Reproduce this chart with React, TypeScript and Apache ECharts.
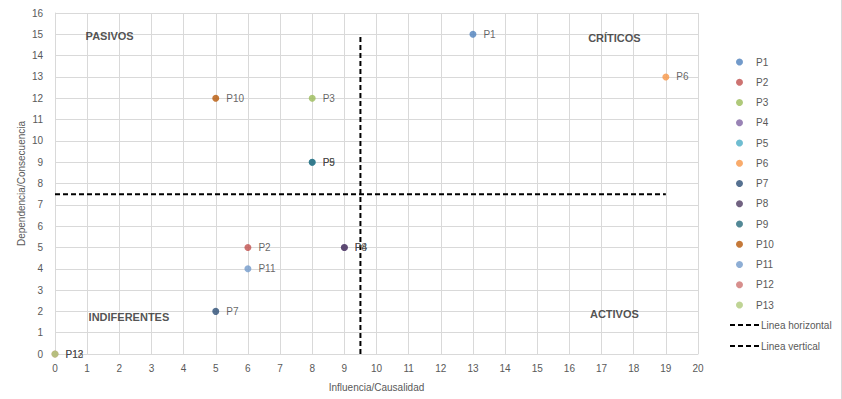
import React, { useEffect, useRef } from "react";
import * as echarts from "echarts";

const names = ["P1", "P2", "P3", "P4", "P5", "P6", "P7", "P8", "P9", "P10", "P11", "P12", "P13"];
const xValues = [13, 6, 8, 9, 8, 19, 5, 9, 8, 5, 6, 0, 0];
const yValues = [15, 5, 12, 5, 9, 13, 2, 5, 9, 12, 4, 0, 0];
const colors = ["#4F81BD", "#C0504D", "#9BBB59", "#8064A2", "#4BACC6", "#F79646", "#2C4D75", "#4D3B62", "#276A7C", "#B65708", "#729ACA", "#CD7371", "#AFC97A"];
const horizontalLine = [[0, 7.5], [19, 7.5]];
const verticalLine = [[9.5, 0], [9.5, 15]];
const quadrantLabels = [
  [1.7, 14.9, "PASIVOS"],
  [17.4, 14.85, "CRÍTICOS"],
  [2.3, 1.75, "INDIFERENTES"],
  [17.4, 1.9, "ACTIVOS"],
];

const font = "'Liberation Sans', Arial, sans-serif";

export default function App() {
  const ref = useRef<HTMLDivElement>(null);
  useEffect(() => {
    const chart = echarts.init(ref.current!, null, { renderer: "svg" });
    const scatterSeries = names.map((n, i) => ({
      name: n,
      type: "scatter",
      data: [[xValues[i], yValues[i]]],
      symbolSize: 7,
      itemStyle: { color: colors[i] },
      label: {
        show: true,
        position: "right",
        distance: 7,
        formatter: n,
        color: "#404040",
        fontSize: 10,
        fontFamily: font,
      },
      z: 5,
    }));
    chart.setOption({
      animation: false,
      backgroundColor: "#fff",
      grid: { left: 55, right: 143, top: 13, bottom: 45 },
      xAxis: {
        type: "value",
        min: 0,
        max: 20,
        interval: 1,
        name: "Influencia/Causalidad",
        nameLocation: "middle",
        nameGap: 28,
        nameMoveOverlap: false,
        nameTextStyle: { color: "#595959", fontSize: 10, fontFamily: font },
        axisLine: { show: true, lineStyle: { color: "#d9d9d9" } },
        axisTick: { show: false },
        axisLabel: { color: "#595959", fontSize: 10, fontFamily: font, margin: 9 },
        splitLine: { show: true, lineStyle: { color: "#d9d9d9" } },
      },
      yAxis: {
        type: "value",
        min: 0,
        max: 16,
        interval: 1,
        name: "Dependencia/Consecuencia",
        nameLocation: "middle",
        nameGap: 29,
        nameMoveOverlap: false,
        nameTextStyle: { color: "#595959", fontSize: 10, fontFamily: font },
        axisLine: { show: true, lineStyle: { color: "#d9d9d9" } },
        axisTick: { show: false },
        axisLabel: { color: "#595959", fontSize: 10, fontFamily: font, margin: 12 },
        splitLine: { show: true, lineStyle: { color: "#d9d9d9" } },
      },
      legend: [
        {
          data: names.map((n) => ({ name: n, icon: "circle" })),
          orient: "vertical",
          left: 731,
          top: 51,
          itemWidth: 7,
          itemHeight: 7,
          itemGap: 8.25,
          textStyle: { color: "#595959", fontSize: 10, fontFamily: font, padding: [0, 0, 0, 8], lineHeight: 12 },
        },
        {
          data: ["Linea horizontal", "Linea vertical"],
          orient: "vertical",
          left: 724,
          top: 314,
          itemWidth: 30,
          itemHeight: 8,
          itemGap: 9,
          itemStyle: { opacity: 0 },
          textStyle: { color: "#595959", fontSize: 10, fontFamily: font, padding: [0, 0, 0, -4], lineHeight: 12 },
        },
      ],
      series: [
        ...scatterSeries,
        {
          name: "Linea horizontal",
          type: "line",
          data: horizontalLine,
          symbol: "none",
          lineStyle: { color: "#000", width: 2, type: [5, 3] },
          itemStyle: { color: "#000" },
          z: 3,
        },
        {
          name: "Linea vertical",
          type: "line",
          data: verticalLine,
          symbol: "none",
          lineStyle: { color: "#000", width: 2, type: [5, 3] },
          itemStyle: { color: "#000" },
          z: 3,
        },
        {
          name: "quadrants",
          type: "scatter",
          data: quadrantLabels,
          symbolSize: 0,
          silent: true,
          label: {
            show: true,
            position: "inside",
            formatter: (p: any) => p.data[2],
            color: "#262626",
            fontSize: 11,
            fontWeight: "bold",
            fontFamily: font,
          },
        },
      ],
    });
    return () => chart.dispose();
  }, []);
  return (
    <div style={{ position: "absolute", left: 0, top: 0, width: 842, height: 399, borderRight: "1px solid #d9d9d9", boxSizing: "border-box" }}>
      <div ref={ref} style={{ width: 841, height: 399 }} />
    </div>
  );
}
